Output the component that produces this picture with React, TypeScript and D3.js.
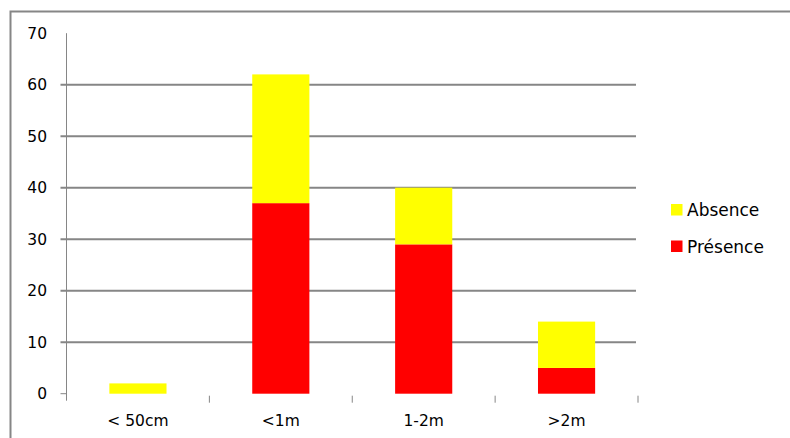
import React from "react";
import * as d3 from "d3";

const categories = ["< 50cm", "<1m", "1-2m", ">2m"];
const presence = [0, 37, 29, 5];
const absence = [2, 25, 11, 9];
const seriesNames = ["Présence", "Absence"];
const seriesColors = ["#ff0000", "#ffff00"];
const yTicks = [0, 10, 20, 30, 40, 50, 60, 70];

const W = 790;
const H = 438;
const left = 66.5;
const right = 638;
const top = 33.2;
const bottom = 393.7;
const font = "'DejaVu Sans', sans-serif";

export default function App() {
  const x = d3.scaleBand<string>().domain(categories).range([left, right]).paddingInner(0.6).paddingOuter(0.3);
  const xb = d3.scaleBand<string>().domain(categories).range([left, right]);
  const y = d3.scaleLinear().domain([0, 70]).range([bottom, top]);
  const rows = categories.map((c, i) => ({ cat: c, p: presence[i], a: absence[i] }));
  const stack = d3.stack<any>().keys(["p", "a"])(rows);
  const gray = "#868686";

  return (
    <svg width={W} height={H} style={{ position: "absolute", left: 0, top: 0 }}>
      <rect x={0} y={0} width={W} height={H} fill="#fff" />
      <path d={`M10.5,${H} V11.5 H${W}`} fill="none" stroke={gray} strokeWidth={2} />
      {yTicks.filter(t => t > 0).map(t => (
        t < 70 ? <line key={t} x1={left - 6} x2={right - 2} y1={y(t)} y2={y(t)} stroke={gray} strokeWidth={2} /> : null
      ))}
      <line x1={left} x2={left} y1={top} y2={bottom + 7} stroke={gray} strokeWidth={1} />
      <line x1={left - 6} x2={left} y1={bottom} y2={bottom} stroke={gray} strokeWidth={1} />
      {categories.map((c, i) => (
        <line key={c} x1={xb(c)! + xb.bandwidth()} x2={xb(c)! + xb.bandwidth()} y1={bottom + 2} y2={bottom + 9} stroke={gray} strokeWidth={1} />
      ))}
      {stack.map((s, si) => (
        <g key={si} fill={seriesColors[si]}>
          {s.map((d, i) => (
            <rect key={i} x={x(categories[i])} width={x.bandwidth()} y={y(d[1])} height={Math.max(0, y(d[0]) - y(d[1]))} />
          ))}
        </g>
      ))}
      {yTicks.map(t => (
        <text key={t} x={47} y={y(t) + 5.5} textAnchor="end" fontFamily={font} fontSize={15.5} fill="#000">{t}</text>
      ))}
      {categories.map(c => (
        <text key={c} x={xb(c)! + xb.bandwidth() / 2} y={426} textAnchor="middle" fontFamily={font} fontSize={15.5} fill="#000">{c}</text>
      ))}
      {[1, 0].map((si, k) => (
        <g key={si}>
          <rect x={671} y={204 + k * 36.5} width={11.5} height={11.5} fill={seriesColors[si]} />
          <text x={687} y={216 + k * 36.5} fontFamily={font} fontSize={17} fill="#000">{seriesNames[si]}</text>
        </g>
      ))}
    </svg>
  );
}
